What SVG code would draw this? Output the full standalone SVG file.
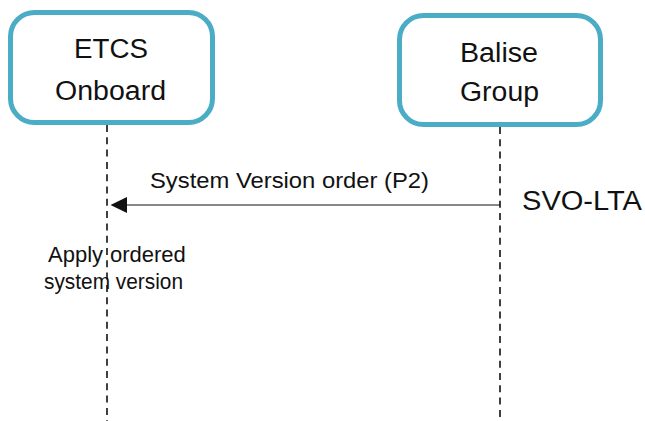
<svg xmlns="http://www.w3.org/2000/svg" width="645" height="421" viewBox="0 0 645 421">
<style>
.node{fill:#fff;stroke:#4BACC6;stroke-width:5}
.nt{font-family:"Liberation Sans",Arial,sans-serif;font-size:27px;fill:#111;text-anchor:middle}
.lbl{font-family:"Liberation Sans",Arial,sans-serif;font-size:22px;fill:#111;text-anchor:middle}
.life{stroke:#111;stroke-width:1.6;stroke-dasharray:7 5.3;fill:none}
.msg{stroke:#111;stroke-width:1.2;fill:none}
</style>
<rect width="645" height="421" fill="#fff"/>
<g id="connectors">
<line class="life" x1="107" y1="125" x2="107" y2="421"/>
<line class="life" x1="500" y1="127" x2="500" y2="421"/>
<line class="msg" x1="500" y1="205" x2="126" y2="205"/>
<path d="M110.5,205 L127,197 L127,213 Z" fill="#111"/>
<text class="lbl" x="289.5" y="188" textLength="279" lengthAdjust="spacingAndGlyphs">System Version order (P2)</text>
</g>
<g id="etcs-onboard">
<rect class="node" x="10.5" y="12.5" width="202" height="110" rx="24"/>
<text class="nt" x="111" y="58" textLength="74" lengthAdjust="spacingAndGlyphs">ETCS</text>
<text class="nt" x="110.5" y="100" textLength="111" lengthAdjust="spacingAndGlyphs">Onboard</text>
</g>
<g id="balise-group">
<rect class="node" x="399.5" y="15.5" width="201" height="109" rx="24"/>
<text class="nt" x="499" y="62" textLength="78" lengthAdjust="spacingAndGlyphs">Balise</text>
<text class="nt" x="499.5" y="101" textLength="79" lengthAdjust="spacingAndGlyphs">Group</text>
</g>
<g id="svo-lta">
<text class="nt" x="582" y="210" font-size="30" textLength="120" lengthAdjust="spacingAndGlyphs">SVO-LTA</text>
</g>
<g id="apply-note">
<text class="lbl" y="262" style="text-anchor:start"><tspan x="48">Apply</tspan> <tspan x="110">ordered</tspan></text>
<text class="lbl" x="113.5" y="289" textLength="139" lengthAdjust="spacingAndGlyphs">system version</text>
</g>
</svg>
